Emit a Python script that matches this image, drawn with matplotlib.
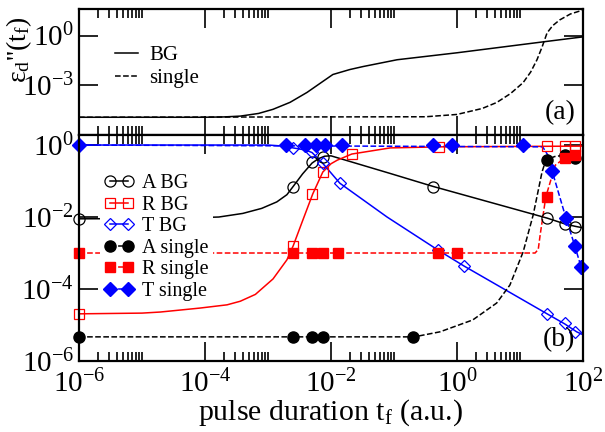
import numpy as np
import matplotlib
matplotlib.use('Agg')
import matplotlib.pyplot as plt
from matplotlib.lines import Line2D
from matplotlib.ticker import FixedLocator, LogFormatterMathtext, NullFormatter

plt.rcParams['font.family'] = ['Liberation Serif', 'DejaVu Serif']
plt.rcParams['mathtext.fontset'] = 'custom'
plt.rcParams['mathtext.rm'] = 'Liberation Serif'
plt.rcParams['mathtext.it'] = 'Liberation Serif:italic'
plt.rcParams['axes.unicode_minus'] = False

# ---- panel (a): curves, log10 of x and y
bg_lx = [-6, -4.03, -3.7, -3.44, -3.15, -2.92, -2.65, -2.38, -2.13, -1.97, -1.70, -1.49, -0.95, 0, 1.37, 2]
bg_ly = [-4.93, -4.93, -4.91, -4.86, -4.7, -4.45, -4.03, -3.43, -2.77, -2.35, -2.05, -1.87, -1.46, -1.04, -0.38, -0.08]
sg_lx = [-6, -0.5, 0, 0.4, 0.63, 0.85, 1.05, 1.17, 1.27, 1.35, 1.43, 1.52, 1.63, 1.8, 2]
sg_ly = [-4.93, -4.9, -4.76, -4.4, -4.04, -3.5, -2.84, -2.2, -1.46, -0.7, 0.16, 0.6, 0.94, 1.3, 1.54]

# ---- panel (b): markers (x, y values)
a_bg_x = [1e-6, 2.5e-3, 5e-3, 7.5e-3, 0.42, 27, 52, 75]
a_bg_y = [9e-3, 0.068, 0.34, 0.46, 0.068, 9.4e-3, 6.4e-3, 5.3e-3]
r_bg_x = [1e-6, 2.5e-3, 5e-3, 7.5e-3, 0.0215, 0.52, 27, 52, 75]
r_bg_y = [2e-5, 1.6e-3, 0.044, 0.18, 0.56, 0.88, 0.95, 0.95, 0.95]
t_bg_x = [1e-6, 2.5e-3, 5e-3, 7.5e-3, 0.0138, 0.5, 1.3, 27, 52, 75]
t_bg_y = [1.0, 0.83, 0.64, 0.32, 0.088, 1.2e-3, 4.4e-4, 2e-5, 1.1e-5, 6.4e-6]
a_sg_x = [1e-6, 2.5e-3, 5e-3, 7.5e-3, 0.2, 27, 52, 75]
a_sg_y = [4.6e-6, 4.6e-6, 4.6e-6, 4.6e-6, 4.6e-6, 0.38, 0.53, 0.44]
r_sg_x = [1e-6, 2.5e-3, 5e-3, 7.5e-3, 0.013, 0.5, 1.0, 27, 52, 75]
r_sg_y = [1e-3, 1e-3, 1e-3, 1e-3, 1e-3, 1e-3, 1e-3, 0.036, 0.435, 0.53]
t_sg_x = [1e-6, 1.94e-3, 3.9e-3, 5.8e-3, 8e-3, 0.015, 0.42, 0.83, 11, 32, 54, 74, 93]
t_sg_y = [1, 1, 1, 1, 1, 1, 1, 1, 1, 0.19, 9.4e-3, 1.6e-3, 4.1e-4]

# ---- panel (b): curves, log10 of x and y
a_bg_lx = [-6, -4.5, -3.78, -3.4, -3.1, -2.86, -2.7, -2.6, -2.45, -2.3, -2.2, -2.1, -2.0, -1.06, -0.38, 1.43, 1.71, 1.88, 2]
a_bg_ly = [-2.05, -2.04, -2.0, -1.9, -1.76, -1.58, -1.38, -1.15, -0.8, -0.5, -0.38, -0.31, -0.30, -0.79, -1.15, -2.03, -2.19, -2.26, -2.3]
r_bg_lx = [-6, -5, -4.71, -4.08, -3.65, -3.44, -3.2, -2.92, -2.70, -2.6, -2.45, -2.29, -2.13, -2.0, -1.90, -1.67, -1.06, -0.27, 2]
r_bg_ly = [-4.69, -4.67, -4.64, -4.53, -4.44, -4.34, -4.15, -3.72, -3.19, -2.8, -2.1, -1.36, -0.75, -0.52, -0.42, -0.25, -0.08, -0.05, -0.03]
t_bg_lx = [-6, -3.0, -2.75, -2.6, -2.4, -2.3, -2.14, -1.86, -1.11, -0.3, 0.11, 1.43, 1.71, 1.9, 2]
t_bg_ly = [0, 0, -0.03, -0.08, -0.14, -0.21, -0.49, -1.06, -2.0, -2.92, -3.36, -4.69, -4.97, -5.19, -5.27]
a_sg_lx = [-6, -0.68, -0.27, 0.25, 0.63, 0.84, 1.05, 1.21, 1.35, 1.41, 1.55, 1.71, 1.88]
a_sg_ly = [-5.33, -5.33, -5.19, -4.86, -4.39, -3.89, -2.97, -1.94, -0.75, -0.42, -0.32, -0.28, -0.36]
r_sg_lx = [-6, 1.24, 1.29, 1.32, 1.41, 1.56, 1.71, 1.87]
r_sg_ly = [-3, -3, -2.9, -2.5, -1.44, -0.56, -0.36, -0.28]
t_sg_lx = [-6, 1.36, 1.45, 1.51, 1.73, 1.87, 1.97]
t_sg_ly = [0, -0.05, -0.3, -0.72, -2.03, -2.8, -3.39]


def p10(v):
    return np.power(10.0, v)


fig = plt.figure(figsize=(6.05, 4.32), dpi=100)
ax1 = fig.add_axes([0.1306, 0.6875, 0.833, 0.2917])
ax2 = fig.add_axes([0.1306, 0.1644, 0.833, 0.5231])

lw = 1.1
ax1.plot(p10(bg_lx), p10(bg_ly), 'k-', lw=lw, label='BG')
ax1.plot(p10(sg_lx), p10(sg_ly), 'k--', lw=lw, label='single')

ax2.plot(p10(a_bg_lx), p10(a_bg_ly), '-', color='black', lw=lw)
ax2.plot(p10(r_bg_lx), p10(r_bg_ly), '-', color='red', lw=lw)
ax2.plot(p10(t_bg_lx), p10(t_bg_ly), '-', color='blue', lw=lw)
ax2.plot(p10(a_sg_lx), p10(a_sg_ly), '--', color='black', lw=lw)
ax2.plot(p10(r_sg_lx), p10(r_sg_ly), '--', color='red', lw=lw)
ax2.plot(p10(t_sg_lx), p10(t_sg_ly), '--', color='blue', lw=lw)

ax2.plot(a_bg_x, a_bg_y, 'o', ls='none', mfc='none', mec='black', ms=8, mew=0.9, clip_on=False)
ax2.plot(r_bg_x, r_bg_y, 's', ls='none', mfc='none', mec='red', ms=7, mew=0.9, clip_on=False)
ax2.plot(t_bg_x, t_bg_y, 'D', ls='none', mfc='none', mec='blue', ms=6, mew=0.9, clip_on=False)
ax2.plot(a_sg_x, a_sg_y, 'o', ls='none', color='black', ms=8, clip_on=False)
ax2.plot(r_sg_x, r_sg_y, 's', ls='none', color='red', ms=7.5, clip_on=False)
ax2.plot(t_sg_x, t_sg_y, 'D', ls='none', color='blue', ms=7, clip_on=False)

minor = [m * k for m in [1e-6, 1e-4, 1e-2, 1] for k in range(2, 11)]
for ax in (ax1, ax2):
    ax.set_xscale('log')
    ax.set_yscale('log')
    ax.set_xlim(1e-6, 1e2)
    ax.xaxis.set_major_locator(FixedLocator([1e-6, 1e-4, 1e-2, 1, 1e2]))
    ax.xaxis.set_minor_locator(FixedLocator(minor))
    ax.xaxis.set_minor_formatter(NullFormatter())
    ax.yaxis.set_minor_locator(FixedLocator([]))
    ax.tick_params(which='both', direction='in', top=True, right=True, width=1.2, labelsize=21)
    ax.tick_params(which='major', length=14)
    ax.tick_params(which='minor', length=6.5)
    for s in ax.spines.values():
        s.set_linewidth(1.6)

ax1.set_ylim(1e-6, 40)
ax1.yaxis.set_major_locator(FixedLocator([1e-3, 1]))
ax1.yaxis.set_major_formatter(LogFormatterMathtext())
ax1.xaxis.set_major_formatter(NullFormatter())
ax1.set_ylabel(r"ε$_\mathregular{d}$''(t$_\mathregular{f}$)", fontsize=20)
ax1.yaxis.set_label_coords(-0.09, 0.68)
ax1.text(0.985, 0.08, '(a)', transform=ax1.transAxes, ha='right', va='bottom', fontsize=20)
ax1.legend(loc='upper left', bbox_to_anchor=(0.05, 0.79), frameon=False, fontsize=15,
           handlelength=1.1, handletextpad=0.55, labelspacing=0.15, borderpad=0)

ax2.set_ylim(1e-6, 1.9)
ax2.yaxis.set_major_locator(FixedLocator([1e-6, 1e-4, 1e-2, 1]))
ax2.yaxis.set_major_formatter(LogFormatterMathtext())
ax2.xaxis.set_major_formatter(LogFormatterMathtext())
ax2.tick_params(axis='x', pad=6)
ax2.set_xlabel(r"pulse duration t$_\mathregular{f}$ (a.u.)", fontsize=21.5, labelpad=0)
ax2.text(0.985, 0.04, '(b)', transform=ax2.transAxes, ha='right', va='bottom', fontsize=20)

handles = [
    Line2D([], [], color='black', ls='-', lw=lw, marker='o', mfc='none', mec='black', ms=8, mew=0.9),
    Line2D([], [], color='red', ls='-', lw=lw, marker='s', mfc='none', mec='red', ms=7, mew=0.9),
    Line2D([], [], color='blue', ls='-', lw=lw, marker='D', mfc='none', mec='blue', ms=6, mew=0.9),
    Line2D([], [], color='black', ls='--', lw=lw, marker='o', ms=8),
    Line2D([], [], color='red', ls='--', lw=lw, marker='s', ms=7.5),
    Line2D([], [], color='blue', ls='--', lw=lw, marker='D', ms=7),
]
labels = ['A BG', 'R BG', 'T BG', 'A single', 'R single', 'T single']
leg = ax2.legend(handles, labels, loc='upper left', bbox_to_anchor=(0.042, 0.845), numpoints=2,
                 fontsize=14.5, handlelength=1.5, handletextpad=0.4, labelspacing=0.12,
                 borderpad=0.2, borderaxespad=0, frameon=True, fancybox=False)
leg.get_frame().set_facecolor('white')
leg.get_frame().set_edgecolor('none')
leg.get_frame().set_alpha(1)

fig.savefig('out.png', dpi=100)
